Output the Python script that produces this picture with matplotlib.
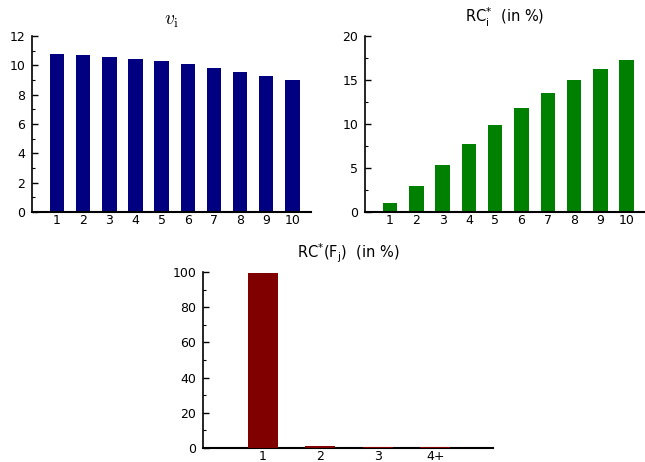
import numpy as np
import matplotlib
matplotlib.use('Agg')
import matplotlib.pyplot as plt
from matplotlib.ticker import MultipleLocator

plt.rcParams['font.family'] = ['DejaVu Sans']
plt.rcParams['font.size'] = 9

# data
ranks = np.arange(1, 11)
v_vals = [10.75, 10.68, 10.58, 10.45, 10.27, 10.07, 9.8, 9.55, 9.27, 9.02]
rc_vals = [1.0, 3.0, 5.3, 7.7, 9.85, 11.8, 13.5, 14.95, 16.3, 17.3]
factor_labels = ['1', '2', '3', '4+']
rc_factor_vals = [99.3, 1.2, 0.6, 0.6]


def style(ax, major, minor):
    for s in ('top', 'right'):
        ax.spines[s].set_visible(False)
    ax.spines['left'].set_linewidth(1.2)
    ax.spines['bottom'].set_linewidth(1.5)
    ax.yaxis.set_major_locator(MultipleLocator(major))
    ax.yaxis.set_minor_locator(MultipleLocator(minor))
    ax.tick_params(axis='y', direction='in', length=4, width=1, pad=5)
    ax.tick_params(axis='y', which='minor', direction='in', length=2, width=0.8)
    ax.tick_params(axis='x', length=0, pad=1.5)


fig = plt.figure(figsize=(6.45, 4.62), dpi=100)

ax1 = fig.add_axes([0.0496, 0.541, 0.432, 0.381])
ax1.bar(ranks, v_vals, width=0.55, color='#000080')
ax1.set_xlim(0.04, 10.7)
ax1.set_ylim(0, 12)
ax1.set_xticks(ranks)
style(ax1, 2, 1)
ax1.set_title(r'$v_{\mathrm{i}}$', fontsize=14, pad=8, math_fontfamily='cm')

ax2 = fig.add_axes([0.566, 0.541, 0.434, 0.381])
ax2.bar(ranks, rc_vals, width=0.55, color='#008000')
ax2.set_xlim(0.05, 10.7)
ax2.set_ylim(0, 20)
ax2.set_xticks(ranks)
style(ax2, 5, 2.5)
ax2.set_title(r'RC$^{*}_{\mathrm{i}}$  (in %)', fontsize=10.5, pad=10)

ax3 = fig.add_axes([0.315, 0.0303, 0.449, 0.381])
pos = np.arange(1, len(factor_labels) + 1)
ax3.bar(pos, rc_factor_vals, width=0.52, color='#800000', zorder=3)
ax3.set_xlim(-0.04, 5.0)
ax3.set_ylim(0, 100)
ax3.set_xticks(pos)
ax3.set_xticklabels(factor_labels)
style(ax3, 20, 10)
ax3.set_title(r'RC$^{*}$(F$_{\mathrm{j}}$)  (in %)', fontsize=10.5, pad=10)

fig.savefig('out.png', dpi=100)
